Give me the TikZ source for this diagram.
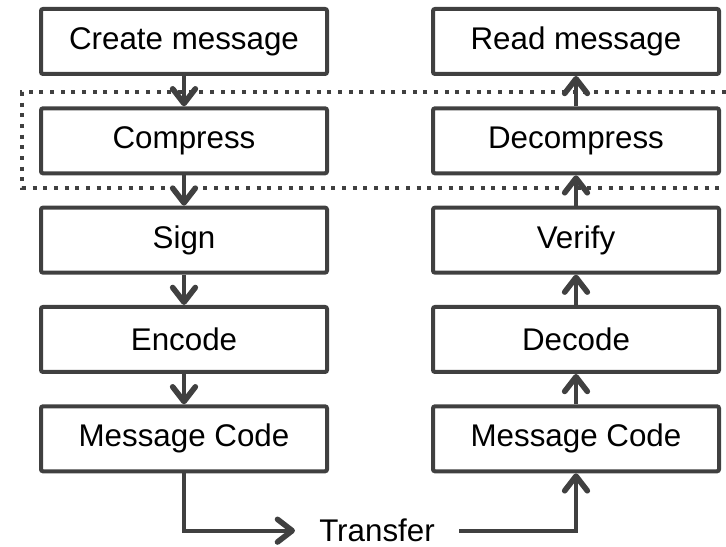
\documentclass[tikz,border=0pt]{standalone}
\usepackage{fontspec}
\setmainfont{Liberation Sans}
\usepackage{xcolor}
\usepackage{tikz}
\usetikzlibrary{positioning,arrows.meta}
\definecolor{linegray}{RGB}{64,64,64}
\tikzstyle{stage}=[draw=linegray,line width=3pt,rounded corners=1.5pt,minimum width=214.5pt,minimum height=48.75pt,font=\fontsize{23.5}{28}\selectfont,text=black]
\tikzstyle{flow}=[draw=linegray,line width=3pt,-{Straight Barb[length=11pt,width=17pt,line width=4.2pt,round]}]
\tikzstyle{frame}=[draw=linegray,line width=3pt,dash pattern=on 3pt off 5pt]

\begin{document}
\begin{tikzpicture}[node distance=22.75pt]
		\useasboundingbox (0,0) rectangle (544.5pt,-410.25pt);
		% sender side
		\node[stage] (create) at (138pt,-31.1pt) {Create message};
		\node[stage,below=of create] (compress) {Compress};
		\node[stage,below=of compress] (sign) {Sign};
		\node[stage,below=of sign] (encode) {Encode};
		\node[stage,below=of encode] (codeL) {Message Code};
		% receiver side
		\node[stage,right=76.5pt of create] (read) {Read message};
		\node[stage,below=of read] (decompress) {Decompress};
		\node[stage,below=of decompress] (verify) {Verify};
		\node[stage,below=of verify] (decode) {Decode};
		\node[stage,below=of decode] (codeR) {Message Code};
		\node[inner xsep=18pt,inner ysep=2pt,font=\fontsize{23.5}{28}\selectfont] (transfer) at (282.75pt,-398pt) {Transfer};
		% compression layer
		\draw[frame] (544.5pt,-69pt) -| (16.5pt,-141pt) -- (544.5pt,-141pt);
		\draw[flow] (create) -- (compress);
		\draw[flow] (compress) -- (sign);
		\draw[flow] (sign) -- (encode);
		\draw[flow] (encode) -- (codeL);
		\draw[flow] (codeL.south) |- (transfer.west);
		\draw[flow] (transfer.east) -| (codeR.south);
		\draw[flow] (codeR) -- (decode);
		\draw[flow] (decode) -- (verify);
		\draw[flow] (verify) -- (decompress);
		\draw[flow] (decompress) -- (read);
		\end{tikzpicture}
\end{document}
